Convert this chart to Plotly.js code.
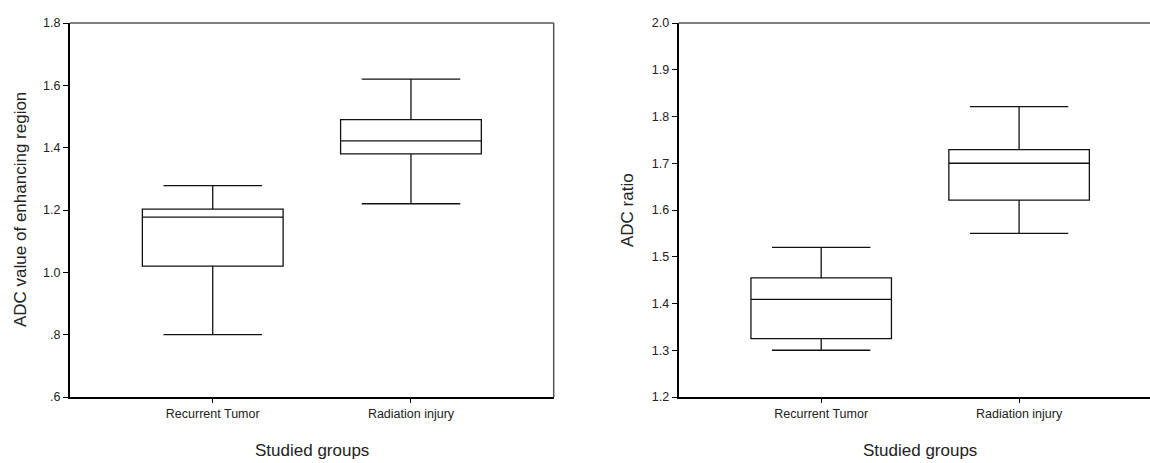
<!DOCTYPE html>
<html>
<head>
<meta charset="utf-8">
<script src="https://cdn.plot.ly/plotly-3.0.1.min.js"></script>
<style>
html,body{margin:0;padding:0;background:#fff;overflow:hidden;width:1150px;height:463px;}
#chart{width:1170px;height:463px;}
</style>
</head>
<body>
<div id="chart"></div>
<script>
// Categories
const groups = ["Recurrent Tumor", "Radiation injury"];

// Left panel: ADC value of enhancing region
const adcLower  = [0.80, 1.22];
const adcQ1     = [1.02, 1.38];
const adcMedian = [1.177, 1.422];
const adcQ3     = [1.203, 1.49];
const adcUpper  = [1.278, 1.62];
const adcTickVals = [0.6, 0.8, 1.0, 1.2, 1.4, 1.6, 1.8];
const adcTickText = [".6", ".8", "1.0", "1.2", "1.4", "1.6", "1.8"];

// Right panel: ADC ratio
const ratioLower  = [1.30, 1.55];
const ratioQ1     = [1.325, 1.621];
const ratioMedian = [1.409, 1.70];
const ratioQ3     = [1.455, 1.729];
const ratioUpper  = [1.52, 1.821];
const ratioTickVals = [1.2, 1.3, 1.4, 1.5, 1.6, 1.7, 1.8, 1.9, 2.0];
const ratioTickText = ["1.2", "1.3", "1.4", "1.5", "1.6", "1.7", "1.8", "1.9", "2.0"];

const W = 1170;
const boxStyle = {
  type: "box",
  line: {color: "#111", width: 1.3},
  fillcolor: "#ffffff",
  width: 0.71,
  whiskerwidth: 0.70,
  boxpoints: false,
  showlegend: false,
  hoverinfo: "skip"
};

const traces = [
  Object.assign({}, boxStyle, {
    x: groups, q1: adcQ1, median: adcMedian, q3: adcQ3,
    lowerfence: adcLower, upperfence: adcUpper,
    xaxis: "x", yaxis: "y"
  }),
  Object.assign({}, boxStyle, {
    x: groups, q1: ratioQ1, median: ratioMedian, q3: ratioQ3,
    lowerfence: ratioLower, upperfence: ratioUpper,
    xaxis: "x2", yaxis: "y2"
  })
];

const tickFont = {family: "Liberation Sans, Arial, sans-serif", size: 12.5, color: "#222"};
const titleFont = {family: "Liberation Sans, Arial, sans-serif", size: 17, color: "#222"};

function xAxis(domain, anchor) {
  return {
    domain: domain, anchor: anchor, type: "category",
    range: [-0.72, 1.72],
    showgrid: false, zeroline: false,
    showline: true, linecolor: "#000", linewidth: 2,
    ticks: "outside", ticklen: 4, tickcolor: "#000", tickwidth: 1,
    tickfont: tickFont, fixedrange: true
  };
}
function yAxis(anchor, range, vals, text) {
  return {
    anchor: anchor, domain: [0, 1], range: range,
    tickmode: "array", tickvals: vals, ticktext: text,
    showgrid: false, zeroline: false,
    showline: true, linecolor: "#000", linewidth: 2,
    ticks: "outside", ticklen: 5, tickcolor: "#000", tickwidth: 1,
    tickfont: tickFont, fixedrange: true
  };
}

const frameShapes = [];
[["x","y"],["x2","y2"]].forEach(function(p){
  frameShapes.push({type:"line", xref:p[0]+" domain", yref:p[1]+" domain", x0:0, x1:1, y0:1, y1:1, line:{color:"#555", width:1.5}});
  frameShapes.push({type:"line", xref:p[0]+" domain", yref:p[1]+" domain", x0:1, x1:1, y0:0, y1:1, line:{color:"#555", width:1.5}});
});

const layout = {
  width: W, height: 463,
  margin: {l: 0, r: 0, t: 23, b: 66},
  paper_bgcolor: "#fff", plot_bgcolor: "#fff",
  showlegend: false,
  xaxis: xAxis([70/W, 553.7/W], "y"),
  yaxis: yAxis("x", [0.6, 1.8], adcTickVals, adcTickText),
  xaxis2: xAxis([678.7/W, 1161.6/W], "y2"),
  yaxis2: yAxis("x2", [1.2, 2.0], ratioTickVals, ratioTickText),
  shapes: frameShapes,
  annotations: [
    {text: "ADC value of enhancing region", textangle: -90, xref: "paper", yref: "paper",
     x: 20/W, y: 0.5, xanchor: "center", yanchor: "middle", showarrow: false, font: titleFont},
    {text: "ADC ratio", textangle: -90, xref: "paper", yref: "paper",
     x: 627/W, y: 0.5, xanchor: "center", yanchor: "middle", showarrow: false, font: titleFont},
    {text: "Studied groups", xref: "paper", yref: "paper",
     x: 311.8/W, y: (397-451)/374, xanchor: "center", yanchor: "middle", showarrow: false, font: titleFont},
    {text: "Studied groups", xref: "paper", yref: "paper",
     x: 920/W, y: (397-451)/374, xanchor: "center", yanchor: "middle", showarrow: false, font: titleFont}
  ]
};

Plotly.newPlot("chart", traces, layout, {staticPlot: true, displayModeBar: false});
</script>
</body>
</html>
